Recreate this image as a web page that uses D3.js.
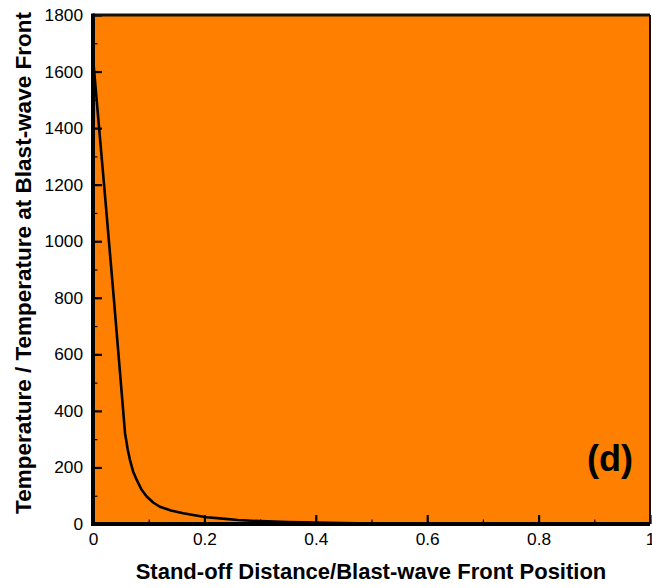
<!DOCTYPE html>
<html>
<head>
<meta charset="utf-8">
<script src="https://cdn.jsdelivr.net/npm/d3@7"></script>
<style>
  body { margin: 0; background: #fff; }
  svg { display: block; font-family: 'Liberation Sans', Arial, sans-serif; }
</style>
</head>
<body>
<div id="chart"></div>
<script>
// values
let distance = [0, 0.0203, 0.0373, 0.0526, 0.0575, 0.0625, 0.0664, 0.072, 0.0785, 0.087, 0.0964, 0.108, 0.12, 0.14, 0.162, 0.185, 0.204, 0.228, 0.26, 0.3, 0.35, 0.4, 0.45, 0.5]
let temperature = [1648, 1190, 800, 438, 321, 262, 226, 186, 156, 122, 97, 76, 61, 48, 38, 30, 24, 20, 14, 10, 7, 5, 3, 2]

let xTicks = [0, 0.2, 0.4, 0.6, 0.8, 1]
let yTicks = [0, 200, 400, 600, 800, 1000, 1200, 1400, 1600, 1800]

let margin = { top: 15, left: 93, right: 2, bottom: 64 }
let width = 652 - margin.left - margin.right
let height = 588 - margin.top - margin.bottom

let svg = d3
  .select('#chart')
  .append('svg')
  .attr('width', 652)
  .attr('height', 588)

let g = svg
  .append('g')
  .attr('transform', 'translate(' + margin.left + ',' + margin.top + ')')

let x = d3.scaleLinear().domain([0, 1]).range([0, width])
let y = d3.scaleLinear().domain([0, 1800]).range([height, 0])

g.append('rect')
  .attr('width', width)
  .attr('height', height)
  .attr('fill', '#ff8000')

// minor ticks
g.append('g')
  .call(d3.axisLeft(y).ticks(18).tickSize(-4.5).tickFormat(''))
  .call(a => a.select('.domain').remove())
  .selectAll('line')
  .attr('stroke-width', 1.2)

g.append('g')
  .attr('transform', `translate(0,${height})`)
  .call(d3.axisBottom(x).ticks(10).tickSize(-4.5).tickFormat(''))
  .call(a => a.select('.domain').remove())
  .selectAll('line')
  .attr('stroke-width', 1.2)

// major ticks and labels
let yAxis = g
  .append('g')
  .call(d3.axisLeft(y).tickValues(yTicks).tickSize(-9).tickPadding(10).tickFormat(d3.format('d')))
yAxis.select('.domain').remove()
yAxis.selectAll('line').attr('stroke-width', 2.2)
yAxis.selectAll('text').attr('font-size', 17.3).attr('fill', '#000').attr('font-family', 'Liberation Sans, Arial, sans-serif')

let xAxis = g
  .append('g')
  .attr('transform', `translate(0,${height})`)
  .call(d3.axisBottom(x).tickValues(xTicks).tickSize(-9).tickPadding(9).tickFormat(d => d === 0 || d === 1 ? d : d.toFixed(1)))
xAxis.select('.domain').remove()
xAxis.selectAll('line').attr('stroke-width', 2.2)
xAxis.selectAll('text').attr('font-size', 17.3).attr('fill', '#000').attr('font-family', 'Liberation Sans, Arial, sans-serif')

// curve
let line = d3
  .line()
  .x((d, i) => x(d))
  .y((d, i) => y(temperature[i]))

g.append('path')
  .datum(distance)
  .attr('d', line)
  .attr('fill', 'none')
  .attr('stroke', '#000')
  .attr('stroke-width', 2.6)
  .attr('stroke-linejoin', 'round')

// frame
g.append('line')
  .attr('x1', 0).attr('x2', width).attr('y1', 0).attr('y2', 0)
  .attr('stroke', '#111').attr('stroke-width', 3)
g.append('line')
  .attr('x1', width).attr('x2', width).attr('y1', 0).attr('y2', height)
  .attr('stroke', '#111').attr('stroke-width', 2)
g.append('line')
  .attr('x1', 0).attr('x2', 0).attr('y1', -1.5).attr('y2', height + 2)
  .attr('stroke', '#000').attr('stroke-width', 4)
g.append('line')
  .attr('x1', -2).attr('x2', width).attr('y1', height).attr('y2', height)
  .attr('stroke', '#000').attr('stroke-width', 4)

// panel label
g.append('text')
  .text('(d)')
  .attr('x', width - 17)
  .attr('y', 456)
  .attr('text-anchor', 'end')
  .attr('font-size', 36)
  .attr('font-weight', 'bold')

// axis titles
svg
  .append('text')
  .text('Stand-off Distance/Blast-wave Front Position')
  .attr('x', 371)
  .attr('y', 579)
  .attr('text-anchor', 'middle')
  .attr('font-size', 22)
  .attr('font-weight', 'bold')

svg
  .append('text')
  .text('Temperature / Temperature at Blast-wave Front')
  .attr('transform', 'translate(31, 263) rotate(-90)')
  .attr('text-anchor', 'middle')
  .attr('font-size', 22.5)
  .attr('font-weight', 'bold')
</script>
</body>
</html>
